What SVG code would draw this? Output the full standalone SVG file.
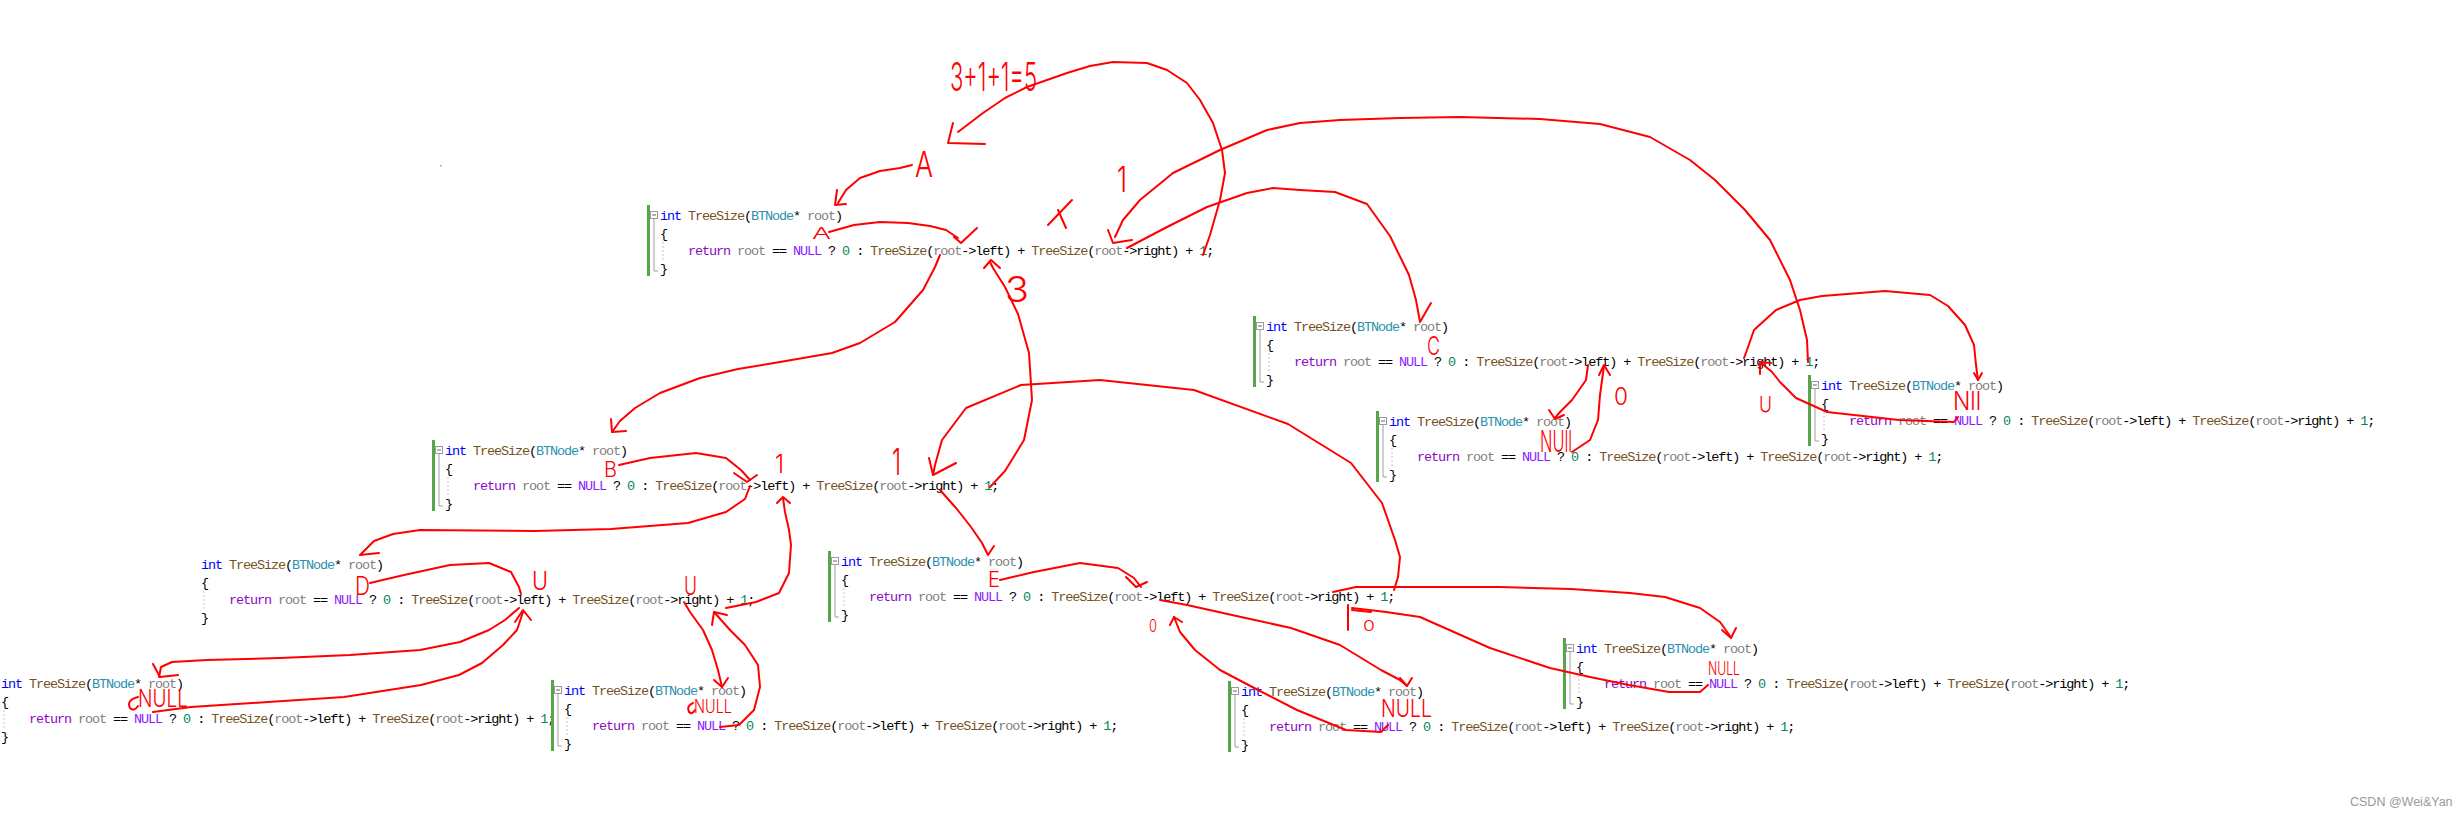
<svg xmlns="http://www.w3.org/2000/svg" width="2463" height="816" viewBox="0 0 2463 816">
<style>
.c{font-family:"Liberation Mono","DejaVu Sans Mono",monospace;font-size:13.5px;letter-spacing:-1.1px;fill:#000;white-space:pre}
.kw{fill:#0000FF}.fn{fill:#74531F}.ty{fill:#2B91AF}.pm{fill:#808080}.rt{fill:#8F08C4}.mc{fill:#8A1BFF}.nm{fill:#098658}
.bar{fill:#57A64A}
.box{fill:#fff;stroke:#9a9a9a;stroke-width:1}
.gl{stroke:#a0a0a0;stroke-width:1;fill:none}
.dot{stroke:#c4c4c4;stroke-width:1;stroke-dasharray:2 2}
.r{fill:none;stroke:#f00;stroke-width:2;stroke-linecap:round;stroke-linejoin:round}
.h{font-family:Inter,"Liberation Sans",sans-serif;font-weight:300;fill:#f00}
.wm{font-family:"Liberation Sans",Arial,sans-serif;font-size:12.5px;fill:#999}
</style>
<defs>
<g id="code">
<text class="c" x="0" y="5" xml:space="preserve"><tspan class="kw">int</tspan> <tspan class="fn">TreeSize</tspan>(<tspan class="ty">BTNode</tspan>* <tspan class="pm">root</tspan>)</text>
<text class="c" x="0" y="22.5">{</text>
<text class="c" x="0" y="40" xml:space="preserve">    <tspan class="rt">return</tspan> <tspan class="pm">root</tspan> == <tspan class="mc">NULL</tspan> ? <tspan class="nm">0</tspan> : <tspan class="fn">TreeSize</tspan>(<tspan class="pm">root</tspan>-&gt;left) + <tspan class="fn">TreeSize</tspan>(<tspan class="pm">root</tspan>-&gt;right) + <tspan class="nm">1</tspan>;</text>
<text class="c" x="0" y="57.5">}</text>
<line class="dot" x1="3" y1="27" x2="3" y2="47"/>
</g>
<g id="fold">
<rect class="bar" x="-13" y="-10" width="3" height="71"/>
<rect class="box" x="-9.5" y="-3.5" width="7" height="7"/>
<line x1="-8" y1="0" x2="-4" y2="0" stroke="#666" stroke-width="1"/>
<path class="gl" d="M-6,3.5 V56 H-2"/>
</g>
</defs>
<rect width="2463" height="816" fill="#fff"/>
<rect x="440" y="165" width="1.5" height="1.5" fill="#999"/>

<g id="n1" transform="translate(660,215)"><use href="#fold"/><use href="#code"/></g>
<g id="n2" transform="translate(1266,326)"><use href="#fold"/><use href="#code"/></g>
<g id="n3" transform="translate(1821,385)"><use href="#fold"/><use href="#code"/></g>
<g id="n4" transform="translate(1389,421)"><use href="#fold"/><use href="#code"/></g>
<g id="n5" transform="translate(445,450)"><use href="#fold"/><use href="#code"/></g>
<g id="n6" transform="translate(201,564)"><use href="#code"/></g>
<g id="n7" transform="translate(1,683)"><use href="#code"/></g>
<g id="n8" transform="translate(564,690)"><use href="#fold"/><use href="#code"/></g>
<g id="n9" transform="translate(841,561)"><use href="#fold"/><use href="#code"/></g>
<g id="n10" transform="translate(1241,691)"><use href="#fold"/><use href="#code"/></g>
<g id="n11" transform="translate(1576,648)"><use href="#fold"/><use href="#code"/></g>

<g id="connectors" class="r">
<path d="M1203,255 L1210,235 1220,200 1225,173 1222,150 1213,123 1200,100 1187,83 1167,70 1147,63 1113,62 1090,66 1067,73 1027,87 1005,98 983,113 958,132"/>
<path d="M953,123 L948,143 985,144"/>
<path d="M912,165 L900,168 880,171 860,178 846,190 838,203"/>
<path d="M837,190 L835,205 846,204"/>
<path d="M829,232 L854,225 880,222 908,223 930,226 946,230 958,238"/>
<path d="M954,237 L961,243 977,228"/>
<path d="M1072,200 L1048,225 M1058,210 L1066,228"/>
<path d="M1808,362 L1807,340 1800,310 1790,280 1770,240 1745,210 1715,180 1690,160 1650,137 1600,124 1540,119 1460,117 1400,118 1340,120 1300,123 1267,130 1220,150 1173,173 1140,200 1123,220 1115,237"/>
<path d="M1108,230 L1113,243 1132,240"/>
<path d="M1127,248 L1167,227 1207,207 1247,193 1273,188 1300,190 1335,192 1367,204 1390,236 1409,275 1416,300 1420,322 1431,303"/>
<path d="M940,255 L935,267 923,290 895,322 860,343 832,353 780,362 738,369 700,378 660,393 635,408 620,421 612,432"/>
<path d="M611,419 L612,432 626,431"/>
<path d="M990,487 L1005,471 1024,440 1032,400 1029,353 1018,314 1005,287 993,268 990,262"/>
<path d="M984,268 L991,260 1000,268"/>
<path d="M619,465 L650,458 696,453 726,458 741,470 750,480"/>
<path d="M734,473 L747,482 757,475"/>
<path d="M750,486 L745,499 726,512 688,523 611,529 535,531 420,530 393,534 374,541 360,555 379,553"/>
<path d="M726,608 L756,602 779,593 789,573 791,545 789,530 785,512 783,498"/>
<path d="M777,503 L783,497 790,503"/>
<path d="M1394,590 L1398,577 1400,557 1395,540 1382,503 1351,463 1288,424 1194,390 1100,380 1021,385 966,408 942,440 935,465 933,475"/>
<path d="M929,458 L933,475 956,463"/>
<path d="M940,490 L956,508 971,527 982,543 988,555 994,546"/>
<path d="M370,583 L404,575 450,565 489,563 511,572 519,587 521,594"/>
<path d="M519,608 L505,620 489,630 460,642 420,650 350,655 280,658 207,660 172,662 161,667 159,677"/>
<path d="M153,664 L160,677 178,675"/>
<path d="M153,712 L191,707 268,702 344,697 421,685 459,675 482,663 503,645 517,630 523,612"/>
<path d="M515,622 L523,610 531,620"/>
<path d="M684,602 L690,612 703,630 712,650 718,670 722,687"/>
<path d="M714,680 L722,687 728,678"/>
<path d="M720,727 L739,725 754,710 760,687 758,665 745,645 730,630 714,612"/>
<path d="M712,625 L714,612 727,615"/>
<path d="M1000,580 L1034,572 1080,563 1118,568 1134,578 1141,587"/>
<path d="M1126,577 L1136,587 1147,582"/>
<path d="M1160,600 L1187,605 1241,617 1291,628 1340,645 1381,670 1400,680 1407,686"/>
<path d="M1400,678 L1407,686 1412,678"/>
<path d="M1388,725 L1381,732 1346,730 1297,710 1258,690 1220,670 1195,650 1180,632 1174,617"/>
<path d="M1170,625 L1174,617 1182,622"/>
<path d="M1333,592 L1356,587 1420,587 1500,587 1571,589 1630,593 1665,597 1700,608 1720,622 1730,636"/>
<path d="M1722,630 L1731,638 1736,628"/>
<path d="M1708,685 L1700,692 1669,692 1629,685 1590,677 1550,668 1490,648 1420,617 1386,612 1352,608"/>
<path d="M1348,605 L1348,630 M1352,610 L1371,612"/>
<path d="M1588,365 L1586,380 1572,400 1560,412 1555,418"/>
<path d="M1549,410 L1555,419 1564,415"/>
<path d="M1572,452 L1590,440 1598,420 1600,395 1604,366"/>
<path d="M1599,375 L1604,365 1610,375"/>
<path d="M1744,358 L1747,350 1754,330 1776,310 1800,300 1822,296 1885,291 1930,295 1948,306 1965,325 1974,345 1976,365 1978,380"/>
<path d="M1974,373 L1978,380 1982,373"/>
<path d="M1958,417 L1954,422 1899,420 1827,412 1796,398 1780,382 1772,372 1760,362"/>
<path d="M1760,374 L1760,362 1771,363"/>
<path d="M138,697 Q126,700 130,708 Q134,712 138,706"/>
<path d="M693,703 Q686,706 689,712 Q692,715 695,710"/>
</g>

<g id="labels" class="h">
<text x="950" y="91" font-size="39" textLength="87" lengthAdjust="spacingAndGlyphs">3+1+1=5</text>
<text x="915" y="177" font-size="35" textLength="18" lengthAdjust="spacingAndGlyphs">A</text>
<text x="812" y="239" font-size="16" textLength="19" lengthAdjust="spacingAndGlyphs">A</text>
<text x="1117" y="192" font-size="35" textLength="10" lengthAdjust="spacingAndGlyphs">1</text>
<text x="1005" y="302" font-size="35" textLength="24" lengthAdjust="spacingAndGlyphs">3</text>
<text x="1427" y="355" font-size="25" textLength="13" lengthAdjust="spacingAndGlyphs">C</text>
<text x="1953" y="410" font-size="25" textLength="28" lengthAdjust="spacingAndGlyphs">Nll</text>
<text x="1614" y="405" font-size="24" textLength="14" lengthAdjust="spacingAndGlyphs">0</text>
<text x="1759" y="412" font-size="22" textLength="13" lengthAdjust="spacingAndGlyphs">U</text>
<text x="1540" y="452" font-size="30" textLength="32" lengthAdjust="spacingAndGlyphs">NUll</text>
<text x="604" y="477" font-size="21" textLength="13" lengthAdjust="spacingAndGlyphs">B</text>
<text x="775" y="473" font-size="25" textLength="9" lengthAdjust="spacingAndGlyphs">1</text>
<text x="892" y="475" font-size="37" textLength="9" lengthAdjust="spacingAndGlyphs">1</text>
<text x="355" y="595" font-size="25" textLength="15" lengthAdjust="spacingAndGlyphs">D</text>
<text x="532" y="590" font-size="25" textLength="16" lengthAdjust="spacingAndGlyphs">U</text>
<text x="684" y="595" font-size="25" textLength="13" lengthAdjust="spacingAndGlyphs">U</text>
<text x="138" y="707" font-size="24" textLength="50" lengthAdjust="spacingAndGlyphs">NULL</text>
<text x="694" y="713" font-size="18" textLength="38" lengthAdjust="spacingAndGlyphs">NULL</text>
<text x="988" y="587" font-size="21" textLength="12" lengthAdjust="spacingAndGlyphs">E</text>
<text x="1149" y="632" font-size="17" textLength="8" lengthAdjust="spacingAndGlyphs">0</text>
<text x="1381" y="717" font-size="24" textLength="51" lengthAdjust="spacingAndGlyphs">NULL</text>
<text x="1363" y="631" font-size="15" textLength="12" lengthAdjust="spacingAndGlyphs">0</text>
<text x="1708" y="675" font-size="18" textLength="32" lengthAdjust="spacingAndGlyphs">NULL</text>
</g>

<text class="wm" x="2350" y="806">CSDN @Wei&amp;Yan</text>
</svg>
